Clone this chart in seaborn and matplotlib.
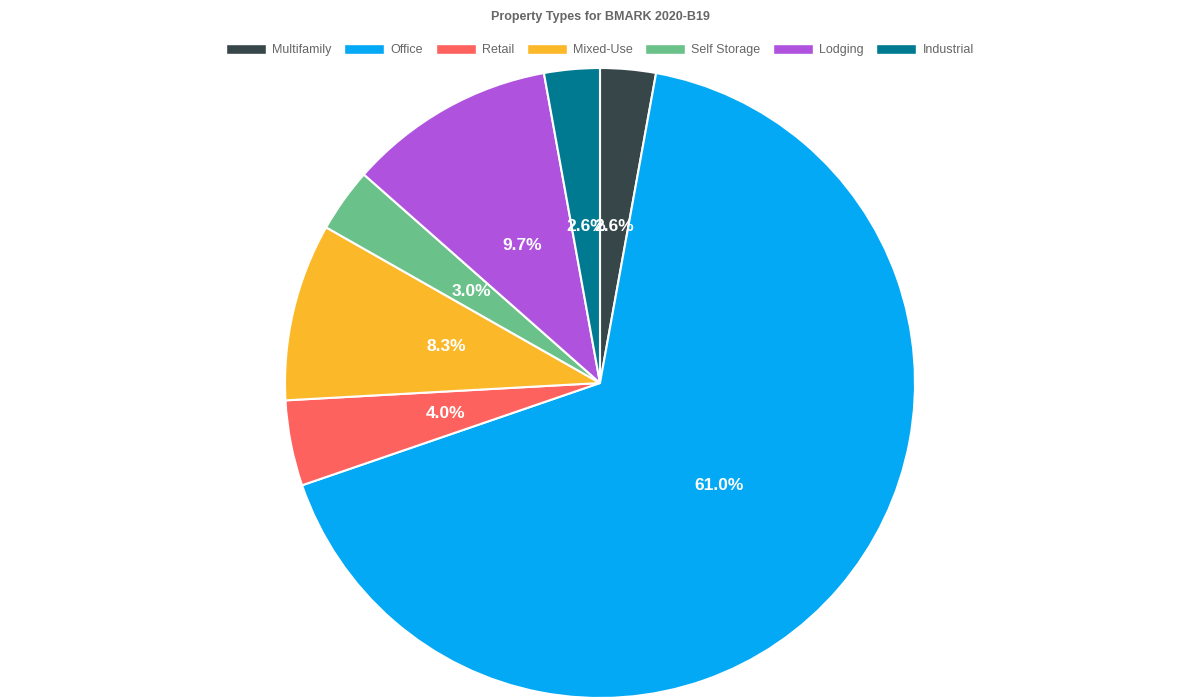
import matplotlib
matplotlib.use("Agg")
import matplotlib.pyplot as plt
import seaborn as sns
from matplotlib.patches import Patch

sns.set_theme(style="white")
plt.rcParams['font.family'] = ['Liberation Sans', 'DejaVu Sans']

categories = ["Multifamily", "Office", "Retail", "Mixed-Use", "Self Storage", "Lodging", "Industrial"]
values = [2.6, 61.0, 4.0, 8.3, 3.0, 9.7, 2.6]
colors = ["#374649", "#03A9F4", "#FD625E", "#FBB829", "#6BC18A", "#AF53DF", "#007A91"]

fig = plt.figure(figsize=(12, 7), dpi=100)
ax = fig.add_axes([0, 0, 1, 1])
R = 315

wedges, texts = ax.pie(values, colors=colors, startangle=90, counterclock=False,
                       radius=1, labels=[f"{v:.1f}%" for v in values], labeldistance=0.5,
                       wedgeprops=dict(edgecolor="white", linewidth=1.5),
                       textprops=dict(color="white", fontsize=12.5, fontweight="bold"))
for t in texts:
    t.set_ha("center"); t.set_va("center")
ax.set_aspect("auto")
ax.set_xlim(-600 / R, 600 / R)
ax.set_ylim(-317 / R, 383 / R)
ax.axis("off")

fig.text(0.5, 1 - 17 / 700, "Property Types for BMARK 2020-B19", ha="center", va="center",
         fontsize=9, fontweight="bold", color="#666666")
handles = [Patch(facecolor=c, label=l) for c, l in zip(colors, categories)]
fig.legend(handles=handles, loc="center", bbox_to_anchor=(0.5, 1 - 50 / 700), ncol=7,
           frameon=False, fontsize=9, handlelength=3.2, handleheight=0.8,
           columnspacing=1.0, handletextpad=0.5, labelcolor="#666666")
fig.savefig("out.png", dpi=100)
